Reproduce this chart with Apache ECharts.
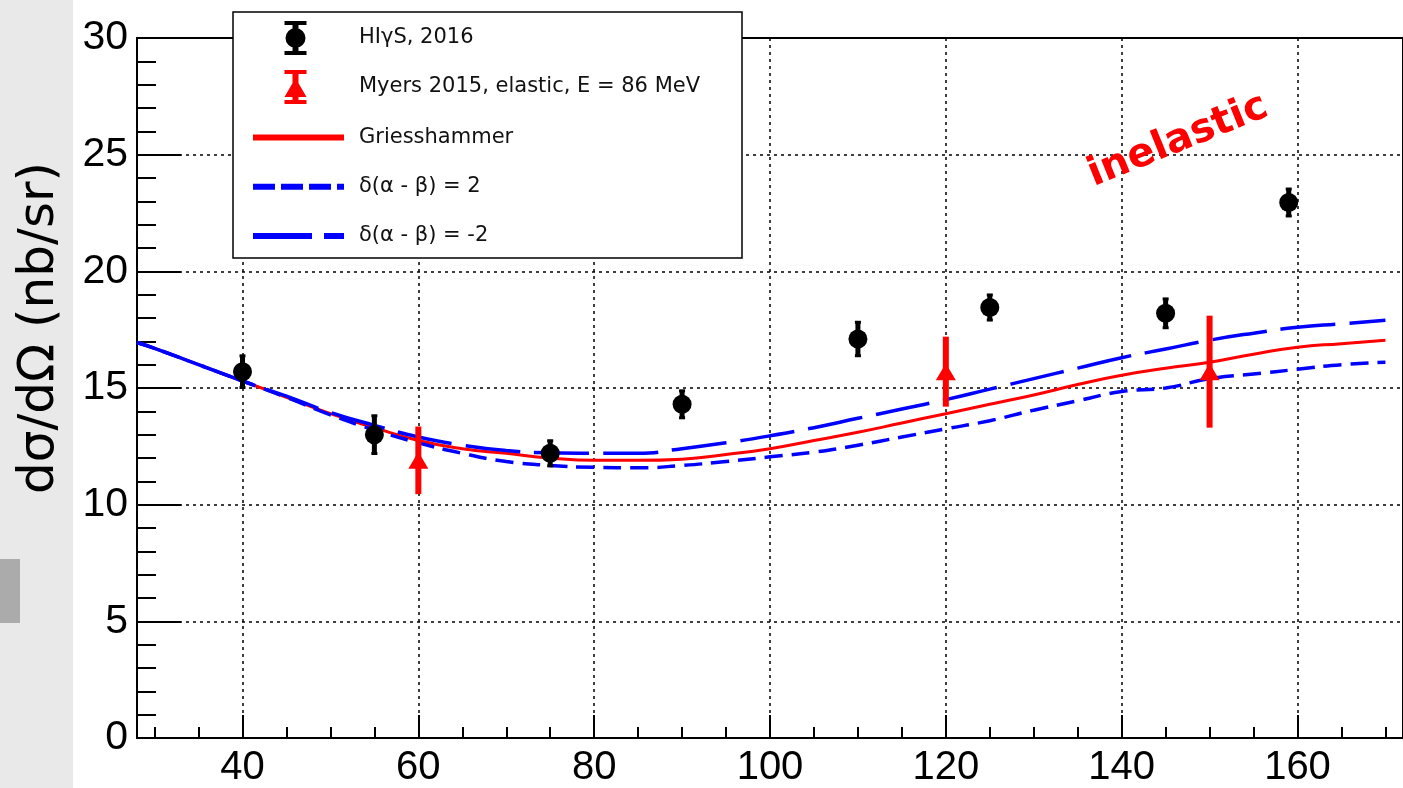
<!DOCTYPE html>
<html>
<head>
<meta charset="utf-8">
<title>Compton cross section</title>
<script src="https://cdn.jsdelivr.net/npm/echarts@6/dist/echarts.min.js"></script>
<style>
  html, body { margin: 0; padding: 0; background: #fff; }
  #chart { width: 1403px; height: 788px; }
</style>
</head>
<body>
<div id="chart"></div>
<script>
// HIgS 2016 data points (angle in deg, dsigma/dOmega in nb/sr)
const hisAngle = [40, 55, 75, 90, 110, 125, 145, 159];
const hisValue = [15.7, 13.0, 12.2, 14.3, 17.1, 18.45, 18.2, 22.95];
const hisError = [0.72, 0.85, 0.58, 0.62, 0.76, 0.58, 0.66, 0.62];

// Myers 2015, elastic
const myersAngle = [60, 120, 150];
const myersValue = [11.9, 15.7, 15.7];
const myersError = [1.45, 1.5, 2.4];

// theory curves
const theoryAngle = [28, 30, 35, 40, 45, 50, 55, 60, 65, 70, 75, 80, 85, 90, 95,
  100, 105, 110, 115, 120, 125, 130, 135, 140, 145, 150, 155, 160, 165, 170];
const griesshammer = [16.95, 16.7, 16.0, 15.3, 14.6, 13.9, 13.3, 12.75, 12.4, 12.2, 12.0, 11.9, 11.9, 11.95, 12.15,
  12.4, 12.75, 13.1, 13.5, 13.9, 14.3, 14.7, 15.15, 15.55, 15.85, 16.1, 16.45, 16.75, 16.9, 17.05];
const deltaPlus2 = [16.95, 16.7, 16.0, 15.3, 14.6, 13.85, 13.2, 12.65, 12.2, 11.85, 11.68, 11.6, 11.58, 11.68, 11.85,
  12.05, 12.25, 12.55, 12.9, 13.25, 13.6, 14.05, 14.45, 14.85, 15.0, 15.4, 15.6, 15.8, 16.0, 16.1];
const deltaMinus2 = [16.95, 16.7, 16.0, 15.3, 14.65, 13.95, 13.4, 12.9, 12.55, 12.32, 12.22, 12.2, 12.2, 12.4, 12.65,
  12.95, 13.3, 13.7, 14.1, 14.5, 14.95, 15.4, 15.85, 16.3, 16.67, 17.05, 17.35, 17.6, 17.75, 17.9];

const xTickLabels = [40, 60, 80, 100, 120, 140, 160];

const pair = (xs, ys) => xs.map((x, i) => [x, ys[i]]);
const bars = (xs, ys, es) => xs.map((x, i) => [x, ys[i] - es[i], ys[i] + es[i]]);

// legend icons (error bar + marker)
const circleIcon = 'path://M0,0 H22 V4 H0 Z M8,0 H14 V34 H8 Z M0,30 H22 V34 H0 Z M1,17 A10,10 0 1,1 21,17 A10,10 0 1,1 1,17 Z';
const triangleIcon = 'path://M0,0 H22 V4 H0 Z M8,0 H14 V34 H8 Z M0,30 H22 V34 H0 Z M11,8 L22,27 L0,27 Z';
// hide the symbol that echarts puts in the middle of line legend icons
const noSymbol = { color: 'transparent', opacity: 0, borderWidth: 0 };
const legendText = { fontSize: 21, color: '#111', fontFamily: 'DejaVu Sans', padding: [0, 0, 0, 10] };

const myChart = echarts.init(document.getElementById('chart'));

const errorBarRenderer = (color, width, cap) => (params, api) => {
  const x = api.value(0);
  const lo = api.coord([x, api.value(1)]);
  const hi = api.coord([x, api.value(2)]);
  const children = [{
    type: 'line',
    shape: { x1: lo[0], y1: lo[1], x2: hi[0], y2: hi[1] },
    style: { stroke: color, lineWidth: width }
  }];
  if (cap) {
    children.push({ type: 'line', shape: { x1: lo[0] - cap, y1: lo[1] - 1, x2: lo[0] + cap, y2: lo[1] - 1 }, style: { stroke: color, lineWidth: 3 } });
    children.push({ type: 'line', shape: { x1: hi[0] - cap, y1: hi[1] + 1, x2: hi[0] + cap, y2: hi[1] + 1 }, style: { stroke: color, lineWidth: 3 } });
  }
  return { type: 'group', children };
};

const option = {
  backgroundColor: '#fff',
  animation: false,
  textStyle: { fontFamily: 'Liberation Sans' },
  grid: {
    left: 137, top: 38, width: 1286, height: 706,
    show: true, borderColor: '#000', borderWidth: 2
  },
  xAxis: {
    type: 'value', min: 28, max: 172, splitNumber: 7,
    axisLine: { lineStyle: { color: '#000', width: 2 } },
    axisTick: { inside: true, length: 23, lineStyle: { color: '#000', width: 2 } },
    minorTick: { show: true, splitNumber: 4, length: 11, lineStyle: { color: '#000', width: 2 } },
    axisLabel: {
      color: '#000', fontSize: 40, margin: 10,
      showMinLabel: false, showMaxLabel: false,
      formatter: (v) => (xTickLabels.includes(v) ? String(v) : '')
    },
    splitLine: { show: true, lineStyle: { color: '#000', width: 1.5, type: [3, 4] } }
  },
  yAxis: {
    type: 'value', min: 0, max: 30, interval: 5,
    axisLine: { show: true, lineStyle: { color: '#000', width: 2 } },
    axisTick: { inside: true, length: 44, lineStyle: { color: '#000', width: 2 } },
    minorTick: { show: true, splitNumber: 5, length: 19, lineStyle: { color: '#000', width: 2 } },
    axisLabel: { color: '#000', fontSize: 41, margin: 9 },
    splitLine: { show: true, lineStyle: { color: '#000', width: 1.5, type: [3, 4] } }
  },
  legend: [
    {
      // point entries: icon is narrower than itemWidth, so shift to keep it centred over the line samples
      orient: 'vertical', left: 284.5, top: 21, padding: 0,
      itemWidth: 91, itemHeight: 34, itemGap: 15, z: 5,
      textStyle: Object.assign({}, legendText, { padding: [0, 0, 0, 13] }),
      data: [
        { name: 'HIγS, 2016', icon: circleIcon, itemStyle: { color: '#000', opacity: 1 } },
        { name: 'Myers 2015, elastic, E = 86 MeV', icon: triangleIcon, itemStyle: { color: '#ff0000', opacity: 1 } }
      ]
    },
    {
      orient: 'vertical', left: 250, top: 124, padding: 0,
      itemWidth: 91, itemHeight: 34, itemGap: 22, z: 5,
      textStyle: legendText,
      data: [
        { name: 'Griesshammer', lineStyle: { width: 6 }, itemStyle: noSymbol },
        { name: 'δ(α - β) = 2', lineStyle: { width: 6, type: [22, 6] }, itemStyle: noSymbol },
        { name: 'δ(α - β) = -2', lineStyle: { width: 6, type: [59, 12] }, itemStyle: noSymbol }
      ]
    }
  ],
  graphic: [
    { type: 'rect', shape: { x: 0, y: 0, width: 73, height: 788 }, style: { fill: '#e9e9e9' }, z: 0 },
    { type: 'rect', shape: { x: 0, y: 559, width: 20, height: 64 }, style: { fill: '#ababab' }, z: 0 },
    {
      type: 'text', x: 40, y: 328, rotation: Math.PI / 2, z: 1,
      style: { text: 'dσ/dΩ (nb/sr)', fill: '#000', font: '50px "DejaVu Sans"', align: 'center', verticalAlign: 'middle' }
    },
    {
      type: 'rect', shape: { x: 233, y: 12, width: 509, height: 246 },
      style: { fill: '#fff', stroke: '#000', lineWidth: 1.5 }, z: 3
    },
    {
      type: 'text', x: 1178, y: 141, rotation: 22 * Math.PI / 180, z: 6,
      style: { text: 'inelastic', fill: '#ff0000', font: 'bold 40px "DejaVu Sans"', align: 'center', verticalAlign: 'middle' }
    }
  ],
  series: [
    {
      name: 'Griesshammer', type: 'line', data: pair(theoryAngle, griesshammer),
      smooth: true, symbol: 'none', color: '#ff0000',
      lineStyle: { color: '#ff0000', width: 3 }, z: 2
    },
    {
      name: 'δ(α - β) = 2', type: 'line', data: pair(theoryAngle, deltaPlus2),
      smooth: true, symbol: 'none', color: '#0000ff',
      lineStyle: { color: '#0000ff', width: 3.5, type: [18, 9] }, z: 2
    },
    {
      name: 'δ(α - β) = -2', type: 'line', data: pair(theoryAngle, deltaMinus2),
      smooth: true, symbol: 'none', color: '#0000ff',
      lineStyle: { color: '#0000ff', width: 3.5, type: [55, 14] }, z: 2
    },
    {
      name: 'hisErrors', type: 'custom', data: bars(hisAngle, hisValue, hisError),
      renderItem: errorBarRenderer('#000', 5, 3), encode: { x: 0, y: [1, 2] }, z: 3
    },
    {
      name: 'HIγS, 2016', type: 'scatter', data: pair(hisAngle, hisValue),
      symbol: 'circle', symbolSize: 19, color: '#000', itemStyle: { color: '#000', opacity: 1 }, z: 4
    },
    {
      name: 'myersErrors', type: 'custom', data: bars(myersAngle, myersValue, myersError),
      renderItem: errorBarRenderer('#ff0000', 6, 0), encode: { x: 0, y: [1, 2] }, z: 3
    },
    {
      name: 'Myers 2015, elastic, E = 86 MeV', type: 'scatter', data: pair(myersAngle, myersValue),
      symbol: 'triangle', symbolSize: [20, 17], color: '#ff0000', itemStyle: { color: '#ff0000', opacity: 1 }, z: 4
    }
  ]
};

myChart.setOption(option);
</script>
</body>
</html>
